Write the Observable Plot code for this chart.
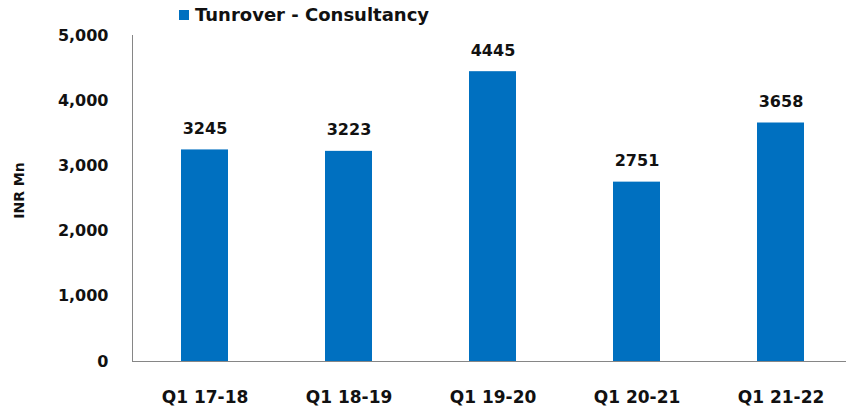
<!DOCTYPE html>
<html>
<head>
<meta charset="utf-8">
<script src="https://cdn.jsdelivr.net/npm/d3@7"></script>
<script src="https://cdn.jsdelivr.net/npm/@observablehq/plot@0.6"></script>
<style>
  html, body { margin: 0; padding: 0; background: #fff; }
  #wrap { position: relative; width: 846px; height: 410px; font-family: "DejaVu Sans", sans-serif; }
  #legend { position: absolute; left: 179px; top: 4px; display: flex; align-items: center; font-weight: bold; font-size: 18px; color: #111; white-space: nowrap; }
  #legend .sw { width: 10px; height: 10px; background: #0070C0; margin-right: 6px; }
</style>
</head>
<body>
<div id="wrap">
  <div id="legend"><span class="sw"></span><span>Tunrover - Consultancy</span></div>
</div>
<script>
const categories = ["Q1 17-18", "Q1 18-19", "Q1 19-20", "Q1 20-21", "Q1 21-22"];
const values = [3245, 3223, 4445, 2751, 3658];
const yTicks = [0, 1000, 2000, 3000, 4000, 5000];
const seriesName = "Tunrover - Consultancy";
const yLabel = "INR Mn";

const data = categories.map((c, i) => ({category: c, value: values[i]}));

const chart = Plot.plot({
  width: 846,
  height: 410,
  marginTop: 35,
  marginBottom: 49,
  marginLeft: 132,
  marginRight: 0,
  style: {fontFamily: "DejaVu Sans, sans-serif", fontWeight: "bold", color: "#111", background: "transparent"},
  x: {domain: categories, range: [131, 854], paddingInner: 0.675, paddingOuter: 0.3375},
  y: {domain: [0, 5000]},
  marks: [
    Plot.barY(data, {x: "category", y: "value", fill: "#0070C0"}),
    Plot.text(data, {x: "category", y: "value", text: d => String(d.value), lineAnchor: "bottom", dy: -16, fontSize: 16, fontWeight: "bold", fill: "#111"}),
    Plot.axisY({ticks: yTicks, tickSize: 0, tickPadding: 24, tickFormat: d3.format(","), fontSize: 16, fontWeight: "bold", label: null}),
    Plot.axisX({tickSize: 0, tickPadding: 29, fontSize: 17, fontWeight: "bold", label: null}),
    Plot.frame({anchor: "left", stroke: "#868686", strokeOpacity: 1}),
    Plot.ruleY([0], {stroke: "#868686"}),
    Plot.text([yLabel], {frameAnchor: "left", textAnchor: "middle", lineAnchor: "middle", dx: -113, dy: -8, rotate: -90, fontSize: 14, fontWeight: "bold", fill: "#111"})
  ]
});
document.getElementById("wrap").prepend(chart);
</script>
</body>
</html>
